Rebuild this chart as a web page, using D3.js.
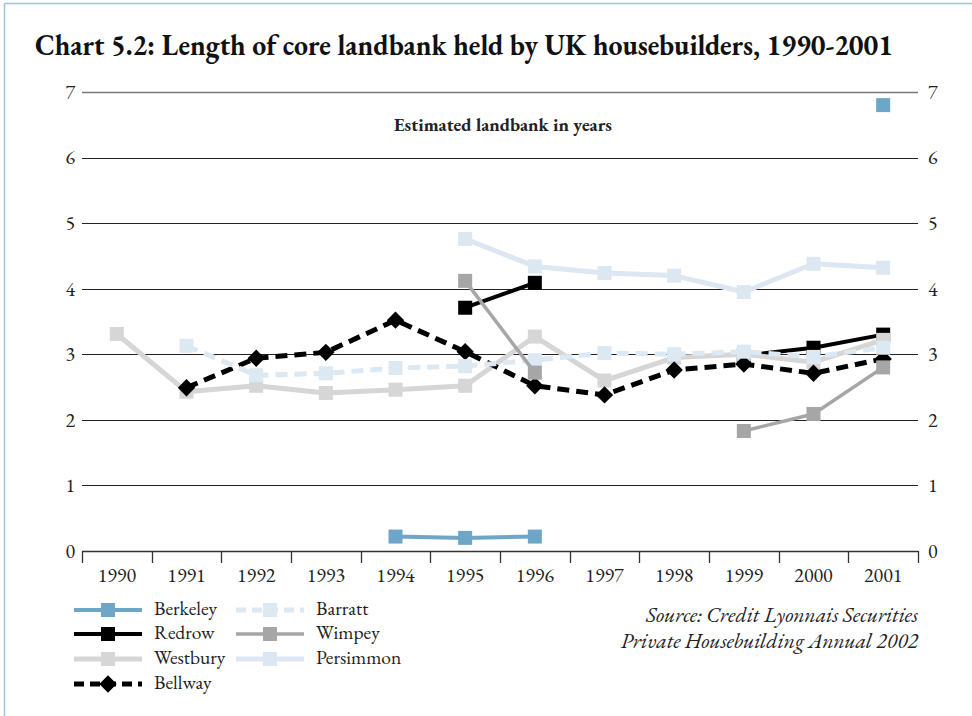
<!DOCTYPE html>
<html><head><meta charset="utf-8">
<script src="https://cdn.jsdelivr.net/npm/d3@7"></script>
<style>
body{margin:0;background:#fff;}
svg{display:block;}
svg text{font-family:"EB Garamond","Liberation Serif","Times New Roman",serif;}
</style></head>
<body><svg id="c" width="972" height="716"></svg>
<script>
const years = ["1990","1991","1992","1993","1994","1995","1996","1997","1998","1999","2000","2001"];
const berkeley  = [null,null,null,null,0.22,0.20,0.22,null,null,null,null,6.8];
const redrow    = [null,null,null,null,null,3.71,4.09,null,null,2.98,3.10,3.30];
const westbury  = [3.31,2.43,2.52,2.41,2.46,2.52,3.27,2.60,2.95,3.00,2.88,3.22];
const bellway   = [null,2.49,2.94,3.03,3.52,3.04,2.52,2.38,2.76,2.85,2.71,2.93];
const barratt   = [null,3.13,2.68,2.71,2.79,2.82,2.91,3.02,3.00,3.04,2.96,3.10];
const wimpey    = [null,null,null,null,null,4.12,2.72,null,null,1.83,2.09,2.80];
const persimmon = [null,null,null,null,null,4.76,4.34,4.24,4.20,3.95,4.38,4.32];
const yTicks = [0,1,2,3,4,5,6,7];

const series = [
  {name:"Berkeley", values:berkeley, color:"#6ea6c8", width:4, dash:null, marker:"square"},
  {name:"Redrow", values:redrow, color:"#000000", width:4, dash:null, marker:"square"},
  {name:"Westbury", values:westbury, color:"#d6d6d6", width:5, dash:null, marker:"square"},
  {name:"Bellway", values:bellway, color:"#000000", width:5, dash:"12,7", marker:"diamond"},
  {name:"Barratt", values:barratt, color:"#dce8f2", width:5, dash:"12,7", marker:"square"},
  {name:"Wimpey", values:wimpey, color:"#a6a6a6", width:3.5, dash:null, marker:"square"},
  {name:"Persimmon", values:persimmon, color:"#dce7f1", width:5, dash:null, marker:"square"}
];

const FONT = "'EB Garamond','Liberation Serif',serif";
const svg = d3.select("#c");
// frame
svg.append("line").attr("x1",4.5).attr("x2",972).attr("y1",3.5).attr("y2",3.5).attr("stroke","#9cc3d8").attr("stroke-width",1.5);
svg.append("line").attr("x1",4.5).attr("x2",4.5).attr("y1",3.5).attr("y2",716).attr("stroke","#9cc3d8").attr("stroke-width",1.5);

const title = svg.append("text").attr("x",35).attr("y",55).attr("font-size",29).attr("font-weight","bold")
  .attr("fill","#111").text("Chart 5.2: Length of core landbank held by UK housebuilders, 1990-2001");
title.attr("textLength",858).attr("lengthAdjust","spacingAndGlyphs");

const pLeft=82, pRight=918, pTop=92, pBottom=551;
const x = d3.scaleBand().domain(years).range([pLeft,pRight]);
const y = d3.scaleLinear().domain([0,7]).range([pBottom,pTop]);

// gridlines
svg.append("g").selectAll("line").data(yTicks.filter(d=>d>0)).join("line")
  .attr("x1",pLeft).attr("x2",pRight).attr("y1",d=>Math.round(y(d))+0.5).attr("y2",d=>Math.round(y(d))+0.5)
  .attr("stroke",d=>d===7?"#777":"#222").attr("stroke-width",d=>d===7?1.6:1);

// y labels left and right
const lAxis = svg.append("g").attr("transform",`translate(${pLeft-7},0)`)
  .call(d3.axisLeft(y).tickValues(yTicks).tickSize(0).tickPadding(0).tickFormat(d3.format("d")));
lAxis.select(".domain").remove();
lAxis.attr("font-family",FONT);
lAxis.selectAll("text").attr("font-size",20).attr("fill","#222");
const rAxis = svg.append("g").attr("transform",`translate(${pRight+10},0)`)
  .call(d3.axisRight(y).tickValues(yTicks).tickSize(0).tickPadding(0).tickFormat(d3.format("d")));
rAxis.select(".domain").remove();
rAxis.attr("font-family",FONT);
rAxis.selectAll("text").attr("font-size",20).attr("fill","#222");

// bottom axis
svg.append("line").attr("x1",pLeft).attr("x2",pRight).attr("y1",pBottom+0.5).attr("y2",pBottom+0.5).attr("stroke","#333").attr("stroke-width",1.3);
const bounds = years.map(d=>x(d)).concat([pRight]);
svg.append("g").selectAll("line").data(bounds).join("line")
  .attr("x1",d=>Math.round(d)+0.5).attr("x2",d=>Math.round(d)+0.5).attr("y1",pBottom).attr("y2",pBottom+12)
  .attr("stroke","#333").attr("stroke-width",1.3);
svg.append("g").selectAll("text").data(years).join("text")
  .attr("x",d=>x(d)+x.bandwidth()/2).attr("y",pBottom+31).attr("text-anchor","middle")
  .attr("font-size",20).attr("fill","#222").text(d=>d);

svg.append("text").attr("x",503).attr("y",131).attr("text-anchor","middle").attr("font-size",18.5)
  .attr("font-weight","bold").attr("fill","#222").text("Estimated landbank in years");

const cx = (i)=>x(years[i])+x.bandwidth()/2;
function drawMarker(g, s, px, py, size){
  if(s.marker==="diamond"){
    const h=size*0.62;
    g.append("path").attr("d",`M${px},${py-h}L${px+h},${py}L${px},${py+h}L${px-h},${py}Z`).attr("fill",s.color);
  } else {
    g.append("rect").attr("x",px-size/2).attr("y",py-size/2).attr("width",size).attr("height",size).attr("fill",s.color);
  }
}
const line = d3.line().defined(d=>d.v!=null).x(d=>cx(d.i)).y(d=>y(d.v));
series.forEach(s=>{
  const g = svg.append("g");
  const pts = s.values.map((v,i)=>({v,i}));
  g.append("path").attr("d",line(pts)).attr("fill","none").attr("stroke",s.color)
    .attr("stroke-width",s.width).attr("stroke-dasharray",s.dash).attr("stroke-linejoin","round");
  pts.filter(d=>d.v!=null).forEach(d=>drawMarker(g,s,cx(d.i),y(d.v),14));
});

// legend
const legPos = [[74,610],[74,634],[74,659],[74,684],[236,610],[236,634],[236,659]];
series.forEach((s,k)=>{
  const [lx,ly]=legPos[k];
  const g=svg.append("g");
  g.append("line").attr("x1",lx).attr("x2",lx+68).attr("y1",ly).attr("y2",ly).attr("stroke",s.color)
    .attr("stroke-width",s.width).attr("stroke-dasharray",s.dash?"10,6":null);
  drawMarker(g,s,lx+34,ly,14);
  g.append("text").attr("x",lx+80).attr("y",ly+5).attr("font-size",19.5).attr("fill","#222").text(s.name);
});

svg.append("text").attr("x",918).attr("y",622).attr("text-anchor","end").attr("font-size",21.7)
  .attr("font-style","italic").attr("fill","#222").text("Source: Credit Lyonnais Securities");
svg.append("text").attr("x",918).attr("y",648).attr("text-anchor","end").attr("font-size",21.7)
  .attr("font-style","italic").attr("fill","#222").text("Private Housebuilding Annual 2002");
</script></body></html>
